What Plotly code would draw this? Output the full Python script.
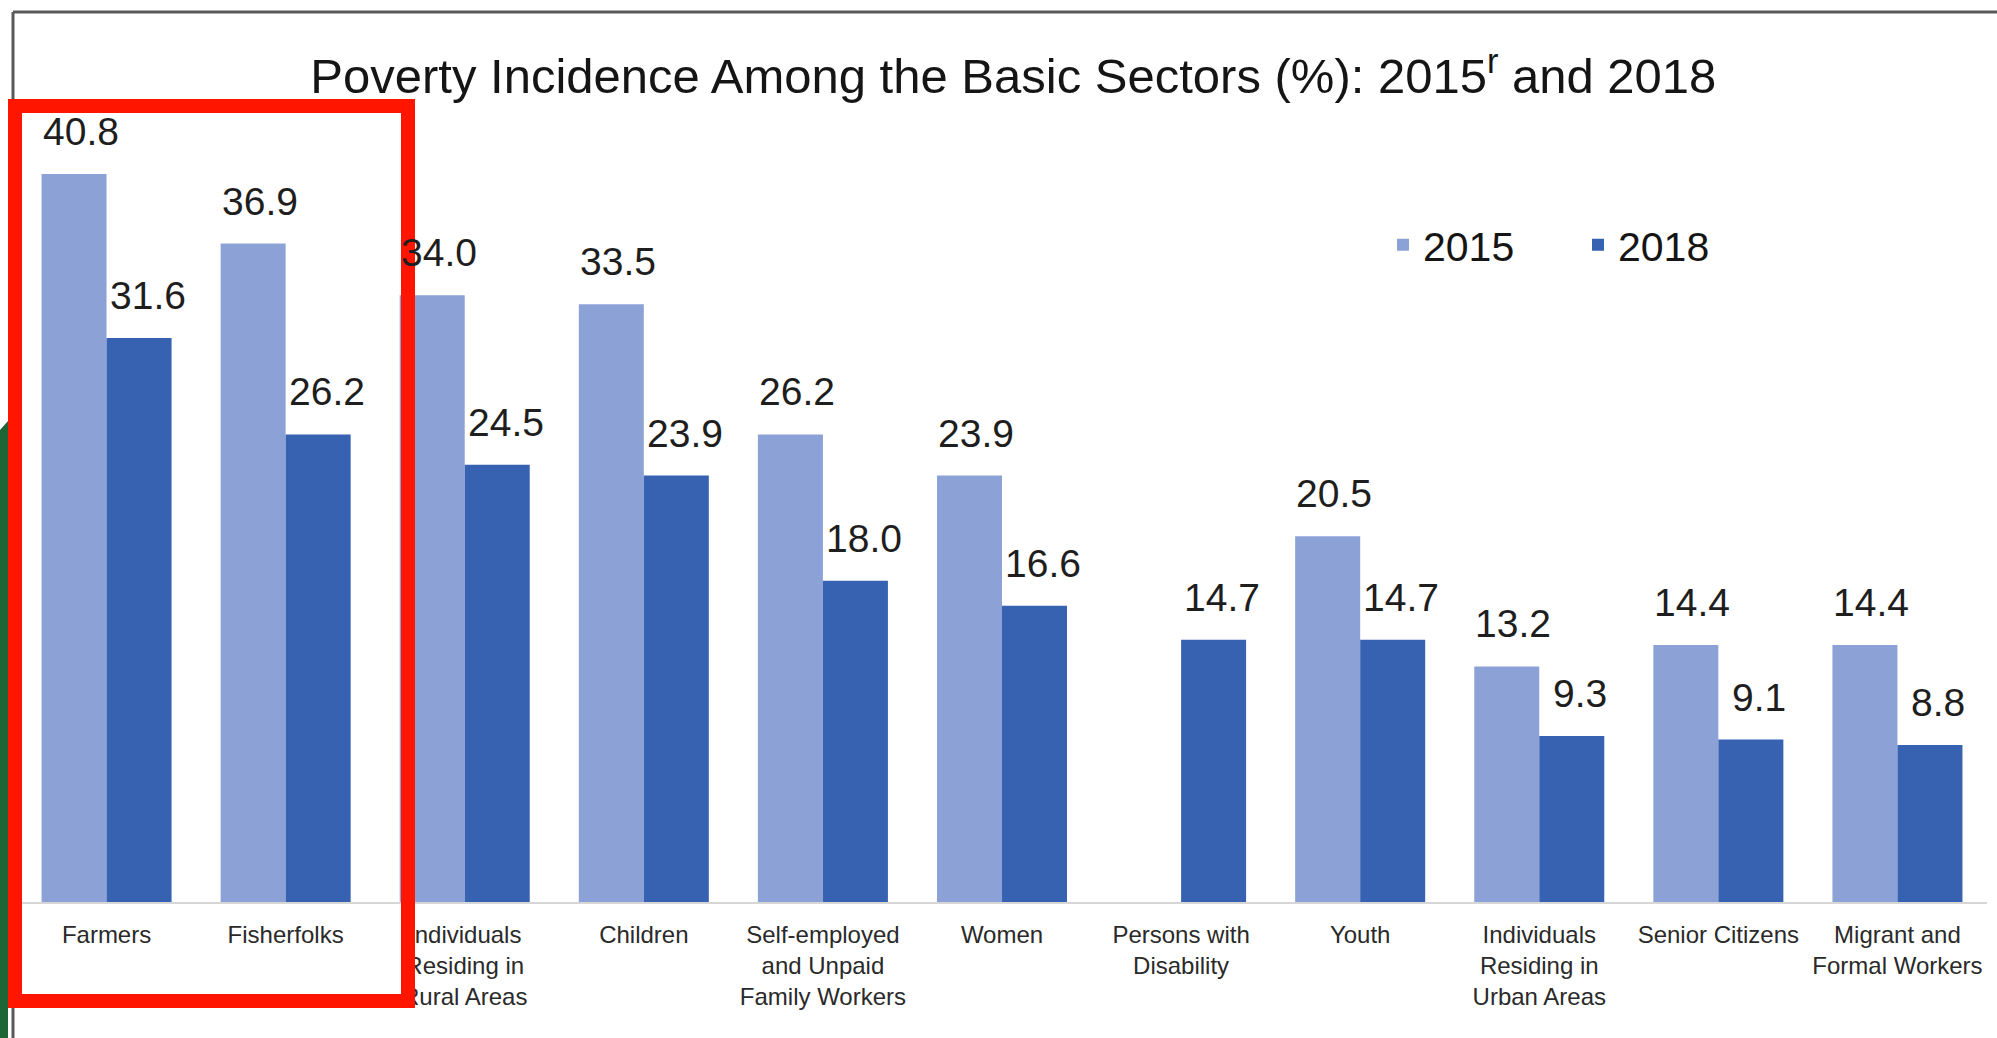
import plotly.graph_objects as go

# Poverty incidence among the basic sectors, in percent
sectors = [
    "Farmers",
    "Fisherfolks",
    "Individuals<br>Residing in<br>Rural Areas",
    "Children",
    "Self-employed<br>and Unpaid<br>Family Workers",
    "Women",
    "Persons with<br>Disability",
    "Youth",
    "Individuals<br>Residing in<br>Urban Areas",
    "Senior Citizens",
    "Migrant and<br>Formal Workers",
]
values_2015 = [40.8, 36.9, 34.0, 33.5, 26.2, 23.9, None, 20.5, 13.2, 14.4, 14.4]
values_2018 = [31.6, 26.2, 24.5, 23.9, 18.0, 16.6, 14.7, 14.7, 9.3, 9.1, 8.8]
series_names = ["2015", "2018"]

COLOR_2015 = "#8CA2D6"
COLOR_2018 = "#3762B1"
FONT = "Liberation Sans, Arial, sans-serif"

W, H = 1997, 1038
M_L, M_R, M_T, M_B = 17, 10, 99, 136
PLOT_W = W - M_L - M_R
PLOT_H = H - M_T - M_B


def px_x(x):
    return (x - M_L) / PLOT_W


def px_y(y):
    return (H - M_B - y) / PLOT_H


fig = go.Figure()
fig.add_trace(go.Bar(name=series_names[0], x=sectors, y=values_2015,
                     marker=dict(color=COLOR_2015, line=dict(width=0))))
fig.add_trace(go.Bar(name=series_names[1], x=sectors, y=values_2018,
                     marker=dict(color=COLOR_2018, line=dict(width=0))))

# value labels above each bar
annotations = []
for vals, shift in ((values_2015, -26), (values_2018, 41)):
    for cat, v in zip(sectors, vals):
        if v is None:
            continue
        annotations.append(dict(
            x=cat, y=v, xref="x", yref="y", text=f"{v:.1f}",
            showarrow=False, xanchor="center", yanchor="bottom",
            xshift=shift, yshift=19,
            font=dict(family=FONT, size=39, color="#1E1E1E"),
        ))

shapes = [
    # slide frame
    dict(type="line", xref="paper", yref="paper",
         x0=px_x(13), x1=px_x(W), y0=px_y(12), y1=px_y(12),
         line=dict(color="#5A5A5A", width=3), layer="above"),
    dict(type="line", xref="paper", yref="paper",
         x0=px_x(13), x1=px_x(13), y0=px_y(12), y1=px_y(H),
         line=dict(color="#5A5A5A", width=3), layer="above"),
    # green edge strip
    dict(type="path", xref="paper", yref="paper",
         path=(f"M {px_x(0)} {px_y(430)} L {px_x(8)} {px_y(421)} "
               f"L {px_x(8)} {px_y(H)} L {px_x(0)} {px_y(H)} Z"),
         fillcolor="#1C6636", line=dict(width=0), layer="above"),
    # highlight box around farmers and fisherfolks
    dict(type="rect", xref="paper", yref="paper",
         x0=px_x(15), x1=px_x(408), y0=px_y(106), y1=px_y(1001),
         line=dict(color="#FF1500", width=14), layer="above"),
]

fig.update_layout(
    width=W, height=H,
    margin=dict(l=M_L, r=M_R, t=M_T, b=M_B),
    paper_bgcolor="white", plot_bgcolor="white",
    barmode="group", bargap=0.274, bargroupgap=0,
    title=dict(
        text="Poverty Incidence Among the Basic Sectors (%): 2015<sup>r</sup> and 2018",
        x=1010 / W, xanchor="center", xref="paper",
        y=1 - 76 / H, yanchor="middle", yref="container",
        font=dict(family=FONT, size=49, color="#151515"),
    ),
    legend=dict(
        orientation="h", x=px_x(1383), xanchor="left",
        y=px_y(245), yanchor="middle",
        font=dict(family=FONT, size=41, color="#151515"),
        entrywidth=150, entrywidthmode="pixels",
        bgcolor="rgba(0,0,0,0)", itemclick=False,
    ),
    xaxis=dict(
        type="category", showgrid=False, zeroline=False,
        showline=True, linecolor="#D6D6D6", linewidth=2,
        ticks="outside", ticklen=10, tickcolor="rgba(0,0,0,0)",
        tickfont=dict(family=FONT, size=24, color="#2A2A2A"),
        tickangle=0, range=[-0.5, len(sectors) - 0.5],
    ),
    yaxis=dict(range=[0, 45], visible=False, showgrid=False, zeroline=False),
    annotations=annotations,
    shapes=shapes,
    showlegend=True,
)

fig.write_html("out.html")
